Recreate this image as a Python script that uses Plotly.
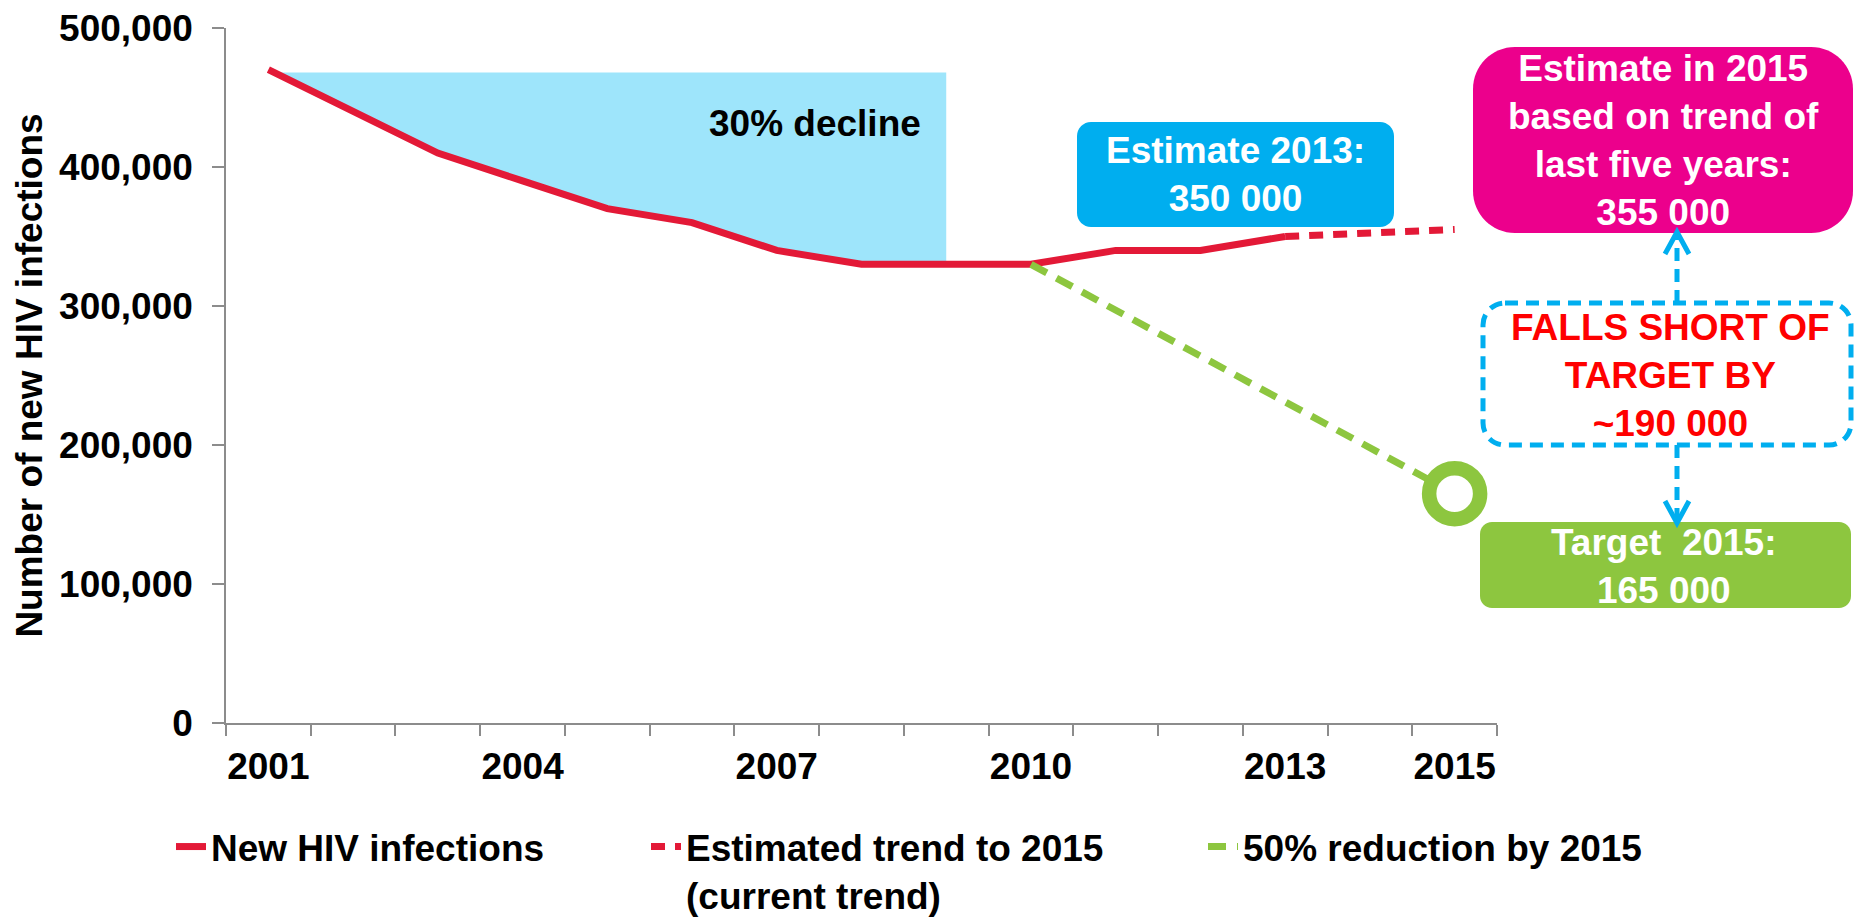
import plotly.graph_objects as go

# ---------------- data ----------------
years = [str(y) for y in range(2001, 2016)]
tick_labels = ["2001", "", "", "2004", "", "", "2007", "", "", "2010", "", "", "2013", "", "2015"]

new_inf_years = [str(y) for y in range(2001, 2014)]
new_inf_values = [470000, 440000, 410000, 390000, 370000, 360000, 340000,
                  330000, 330000, 330000, 340000, 340000, 350000]

trend_years = ["2013", "2014", "2015"]
trend_values = [350000, 352500, 355000]

target_years = ["2010", "2011", "2012", "2013", "2014", "2015"]
target_values = [330000, 297000, 264000, 231000, 198000, 165000]

decline_years = [str(y) for y in range(2001, 2010)]
decline_top = 468000

y_ticks = [0, 100000, 200000, 300000, 400000, 500000]

# ---------------- styling ----------------
FONT = "Liberation Sans, Arial, sans-serif"
FS = 37
RED = "#E31937"
GREEN = "#8DC63F"
BLUE = "#00AEEF"
PINK = "#EC008C"
FILL = "#9EE5FB"
AXIS = "#8C8C8C"

W, H = 1856, 920
L0, T0, R0, B0 = 226, 28, 1497, 723
PW, PH = R0 - L0, B0 - T0

fig = go.Figure()

# 30% decline shaded area (between flat top and the infection line)
dec_vals = new_inf_values[:len(decline_years)]
fig.add_trace(go.Scatter(
    x=decline_years + decline_years[::-1],
    y=[decline_top] * len(decline_years) + dec_vals[::-1],
    fill="toself", fillcolor=FILL, line=dict(width=0), mode="lines",
    showlegend=False, hoverinfo="skip"))

fig.add_trace(go.Scatter(
    x=new_inf_years, y=new_inf_values, mode="lines", name="New HIV infections",
    line=dict(color=RED, width=7), legendwidth=430))

fig.add_trace(go.Scatter(
    x=trend_years, y=trend_values, mode="lines",
    name="Estimated trend to 2015<br>(current trend)",
    line=dict(color=RED, width=7, dash="14px,10px"), legendwidth=512))

fig.add_trace(go.Scatter(
    x=target_years, y=target_values, mode="lines", name="50% reduction by 2015",
    line=dict(color=GREEN, width=7, dash="18px,11px")))

fig.add_trace(go.Scatter(
    x=target_years[-1:], y=target_values[-1:], mode="markers", showlegend=False,
    marker=dict(symbol="circle", size=51, color="white",
                line=dict(color=GREEN, width=14.5))))


def px(x, y):
    return x - L0, B0 - y


def rrect(x0, y0, x1, y1, r):
    k = 0.5523 * r
    def p(x, y):
        a, b = px(x, y)
        return f"{a:.1f},{b:.1f}"
    s = f"M{p(x0 + r, y0)} L{p(x1 - r, y0)} "
    s += f"C{p(x1 - r + k, y0)} {p(x1, y0 + r - k)} {p(x1, y0 + r)} "
    s += f"L{p(x1, y1 - r)} "
    s += f"C{p(x1, y1 - r + k)} {p(x1 - r + k, y1)} {p(x1 - r, y1)} "
    s += f"L{p(x0 + r, y1)} "
    s += f"C{p(x0 + r - k, y1)} {p(x0, y1 - r + k)} {p(x0, y1 - r)} "
    s += f"L{p(x0, y0 + r)} "
    s += f"C{p(x0, y0 + r - k)} {p(x0 + r - k, y0)} {p(x0 + r, y0)} Z"
    return s


def pline(points):
    out = []
    for i, (x, y) in enumerate(points):
        a, b = px(x, y)
        out.append(("M" if i == 0 else "L") + f"{a:.1f},{b:.1f}")
    return " ".join(out)


def add_path(path, fill=None, color=None, width=0, dash=None):
    fig.add_shape(type="path", path=path, xref="paper", yref="paper",
                  xsizemode="pixel", ysizemode="pixel", xanchor=0, yanchor=0,
                  fillcolor=fill if fill else "rgba(0,0,0,0)",
                  line=dict(color=color if color else "rgba(0,0,0,0)", width=width,
                            dash=dash if dash else "solid"),
                  layer="above")


# boxes
add_path(rrect(1077, 122, 1394, 227, 14), fill=BLUE)
add_path(rrect(1473, 47, 1853, 233, 42), fill=PINK)
add_path(rrect(1483, 303, 1851, 445, 22), color=BLUE, width=5, dash="13px,8px")
add_path(rrect(1480, 522, 1851, 608, 12), fill=GREEN)

# arrows
AX = 1677
add_path(pline([(AX, 303), (AX, 234)]), color=BLUE, width=5, dash="13px,8px")
add_path(pline([(AX - 12, 254), (AX, 232), (AX + 12, 254)]), color=BLUE, width=5)
add_path(pline([(AX, 445), (AX, 520)]), color=BLUE, width=5, dash="13px,8px")
add_path(pline([(AX - 12, 501), (AX, 523), (AX + 12, 501)]), color=BLUE, width=5)


def note(text, x, y, color, size=FS):
    fig.add_annotation(text=text, xref="paper", yref="paper",
                       x=(x - L0) / PW, y=(B0 - y) / PH, xanchor="center", yanchor="middle",
                       showarrow=False, align="center",
                       font=dict(family=FONT, size=size, color=color, weight="bold"))


note("30% decline", 815, 123, "black")
note("Estimate 2013:<br>350 000", 1235, 174, "white")
note("Estimate in 2015<br>based on trend of<br>last five years:<br>355 000", 1663, 140, "white")
note("FALLS SHORT OF<br>TARGET BY<br>~190 000", 1670, 375, "#FF0000")
note("Target\u00a0 2015:<br>165 000", 1664, 566, "white")

fig.update_layout(
    width=W, height=H, autosize=False,
    margin=dict(l=L0, r=W - R0, t=T0, b=H - B0, pad=0, autoexpand=False),
    paper_bgcolor="white", plot_bgcolor="white",
    font=dict(family=FONT, size=FS, color="black", weight="bold"),
    showlegend=True,
    legend=dict(orientation="h", x=(171 - L0) / PW, y=(B0 - 816) / PH,
                xanchor="left", yanchor="top", valign="top",
                font=dict(family=FONT, size=FS, color="black", weight="bold"),
                bgcolor="rgba(0,0,0,0)", tracegroupgap=0),
    xaxis=dict(type="category", categoryorder="array", categoryarray=years,
               range=[-0.5, 14.5], tickmode="array", tickvals=years, ticktext=tick_labels,
               tickson="boundaries", ticks="outside", ticklen=11, tickwidth=1.5,
               tickcolor=AXIS, showline=True, linecolor=AXIS, linewidth=1.5,
               showgrid=False, zeroline=False, ticklabelstandoff=10, tickangle=0,
               automargin=False,
               tickfont=dict(family=FONT, size=FS, color="black", weight="bold")),
    yaxis=dict(range=[0, 500000], tickmode="array", tickvals=y_ticks, tickformat=",",
               ticks="outside", ticklen=12, tickwidth=1.5, tickcolor=AXIS,
               showline=True, linecolor=AXIS, linewidth=1.5, showgrid=False,
               zeroline=False, ticklabelstandoff=12, automargin=False,
               tickfont=dict(family=FONT, size=FS, color="black", weight="bold"),
               title=dict(text="Number of new HIV infections", standoff=5,
                          font=dict(family=FONT, size=FS, color="black", weight="bold"))),
)

fig.write_html("out.html", post_script="document.body.style.margin='0';",
               config={"displayModeBar": False})
